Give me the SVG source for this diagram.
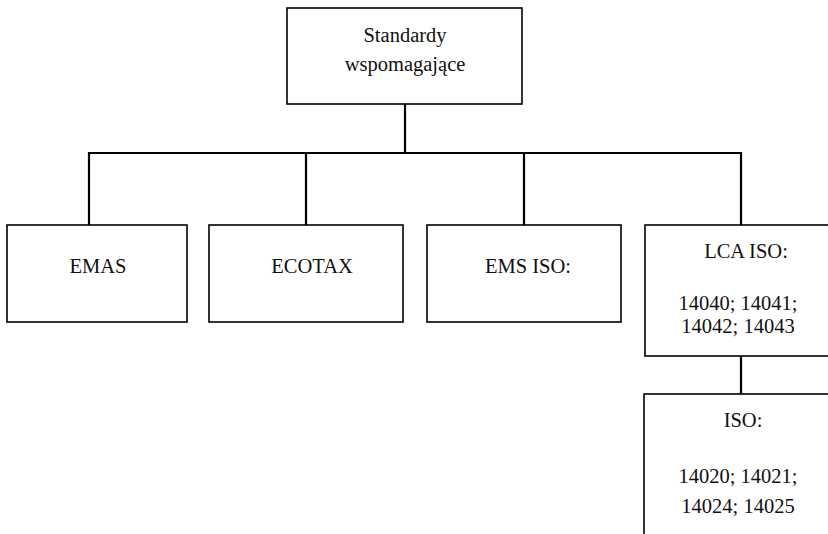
<svg xmlns="http://www.w3.org/2000/svg" width="828" height="534" viewBox="0 0 828 534">
<style>
.box{fill:#fff;stroke:#000;stroke-width:1.6}
.t{font-family:"Liberation Serif","Times New Roman",serif;font-size:20.5px;fill:#111;text-anchor:middle}
.c{fill:none;stroke:#000;stroke-width:2.2}
</style>
<rect width="828" height="534" fill="#fff"/>
<g id="connectors">
<path class="c" d="M405 104V153M89 225V153H741V225M306 153V225M524 153V225M741 356V394"/>
</g>
<g id="root">
<rect class="box" x="287" y="8" width="235" height="96"/>
<text class="t" x="405" y="42">Standardy</text>
<text class="t" x="405" y="71">wspomagające</text>
</g>
<g id="emas">
<rect class="box" x="7" y="225" width="180" height="97"/>
<text class="t" x="98" y="273">EMAS</text>
</g>
<g id="ecotax">
<rect class="box" x="209" y="225" width="194" height="97"/>
<text class="t" x="312" y="273">ECOTAX</text>
</g>
<g id="ems">
<rect class="box" x="427" y="225" width="194" height="97"/>
<text class="t" x="528" y="273">EMS ISO:</text>
</g>
<g id="lca">
<rect class="box" x="645" y="225" width="200" height="131"/>
<text class="t" x="746" y="258">LCA ISO:</text>
<text class="t" x="738" y="310">14040; 14041;</text>
<text class="t" x="738" y="333">14042; 14043</text>
</g>
<g id="iso">
<rect class="box" x="644" y="394" width="200" height="160"/>
<text class="t" x="743" y="427">ISO:</text>
<text class="t" x="738" y="483">14020; 14021;</text>
<text class="t" x="738" y="513">14024; 14025</text>
</g>
</svg>
